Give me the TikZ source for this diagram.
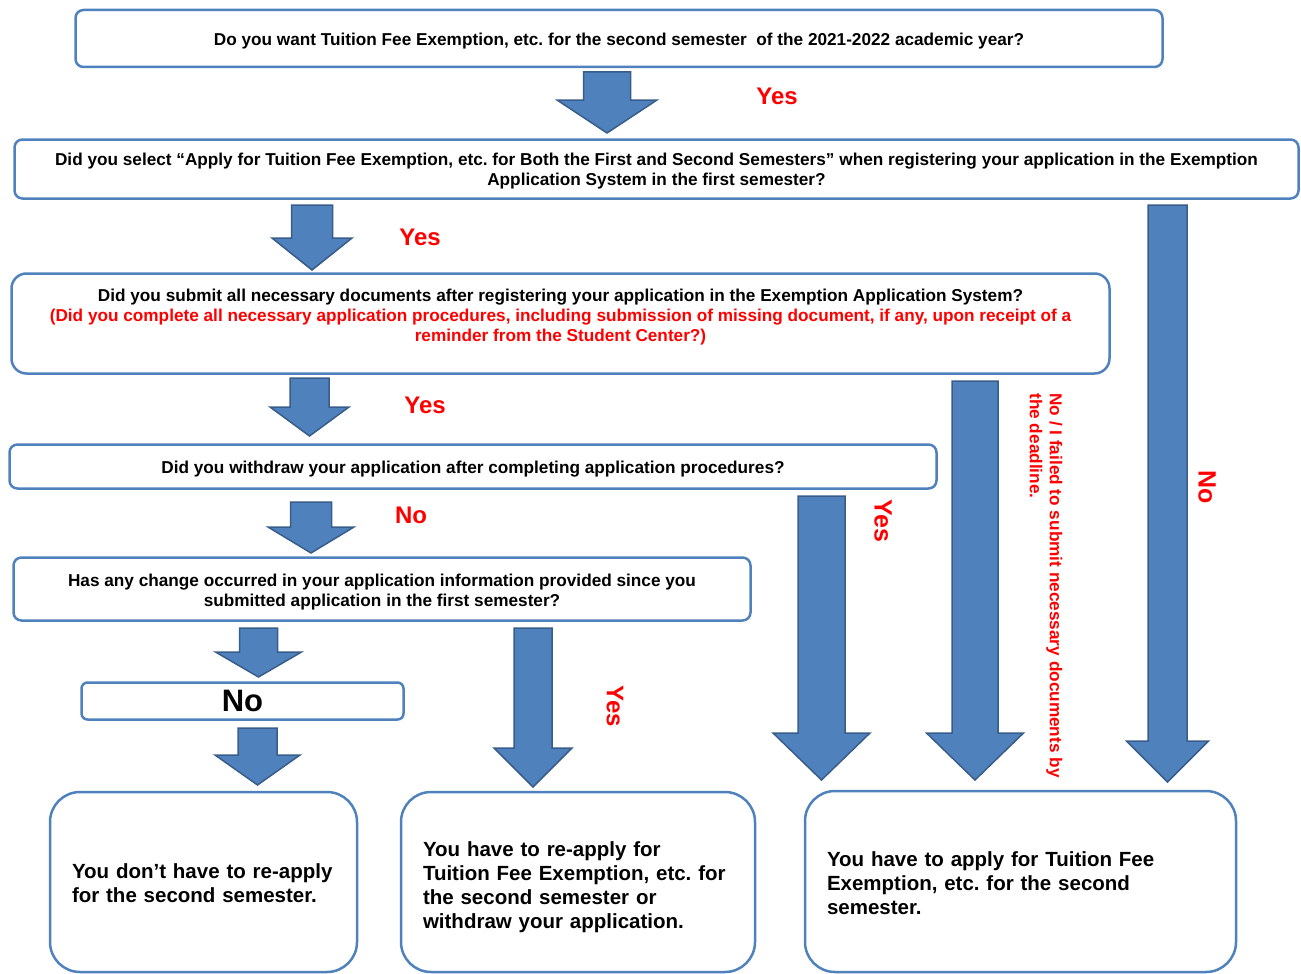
\documentclass[tikz,border=0pt]{standalone}
\usepackage{fontspec}
\setmainfont{Liberation Sans}
\usepackage{tikz}
\definecolor{boxblue}{HTML}{4F81BD}
\definecolor{arredge}{HTML}{385D8A}
\definecolor{lblred}{HTML}{FF0000}
\frenchspacing
% taller first line, pushes the text of a box down a little
\newcommand{\dn}[1]{\rule{0pt}{#1pt}}
\tikzset{
  qbox/.style={draw=boxblue,line width=2.5pt,rounded corners=8pt,align=center,inner sep=0pt,
    font=\bfseries\fontsize{17.2}{20}\selectfont},
  abox/.style={draw=boxblue,line width=2.5pt,rounded corners=30pt,align=left,inner xsep=22pt,
    font=\bfseries\fontsize{20.5}{24}\selectfont},
  barr/.style={fill=boxblue,draw=arredge,line width=1.5pt},
  lbl/.style={text=lblred,font=\bfseries\fontsize{24}{26}\selectfont}
}
% x, top, tip, shaft half width, head half width, head length
\newcommand{\barrow}[6]{\draw[barr] (#1-#4,#2) -- (#1+#4,#2) -- (#1+#4,#3-#6) -- (#1+#5,#3-#6)
  -- (#1,#3) -- (#1-#5,#3-#6) -- (#1-#4,#3-#6) -- cycle;}

\begin{document}
\begin{tikzpicture}[x=1pt,y=-1pt]
\useasboundingbox (0,0) rectangle (1301,974);
%questions
\node[qbox,minimum width=1087,minimum height=57] (want) at (619,38.5)
  {\dn{16.6}Do you want Tuition Fee Exemption, etc. for the second semester\ \ of the 2021-2022 academic year?};
\node[qbox,minimum width=1284,minimum height=59] (select) at (656.5,169)
  {\dn{16.6}Did you select “Apply for Tuition Fee Exemption, etc. for Both the First and Second Semesters” when registering your application in the Exemption\\Application System in the first semester?};
\node[qbox,rounded corners=15pt,minimum width=1098,minimum height=100] (submit) at (560.5,323.5)
  {Did you submit all necessary documents after registering your application in the Exemption Application System?\\
   \color{lblred}(Did you complete all necessary application procedures, including submission of missing document, if any, upon receipt of a\\
   \color{lblred}reminder from the Student Center?)\\[-3pt]\mbox{}};
\node[qbox,minimum width=927,minimum height=44] (withdraw) at (473,466.5)
  {\dn{17.6}Did you withdraw your application after completing application procedures?};
\node[qbox,minimum width=737,minimum height=63] (change) at (382,589)
  {\dn{18.6}Has any change occurred in your application information provided since you\\submitted application in the first semester?};
\node[qbox,rounded corners=6pt,minimum width=322,minimum height=37,font=\bfseries\fontsize{31}{32}\selectfont] (nochange) at (242.5,701) {No};
%answers
\node[abox,text width=263,minimum height=180] (noneed) at (203.5,882)
  {\dn{17}You don’t have to re-apply\\for the second semester.};
\node[abox,text width=310,minimum height=180] (reapply) at (578,882)
  {\dn{25}You have to re-apply for\\Tuition Fee Exemption, etc. for\\the second semester or\\withdraw your application.};
\node[abox,text width=387,minimum height=181] (apply) at (1020.5,881.5)
  {\dn{19}You have to apply for Tuition Fee\\Exemption, etc. for the second\\semester.};
%block arrows
\barrow{607}{72}{133}{23.5}{50}{33}
\barrow{312}{205}{270}{20.5}{40}{32}
\barrow{309.5}{378}{436}{19.5}{39.5}{29}
\barrow{311}{502}{553}{20.5}{43}{26}
\barrow{258.5}{628}{677}{19}{43}{25}
\barrow{257.5}{728}{785}{19.5}{42.5}{30}
\barrow{533}{628}{787}{19}{39}{39}
\barrow{821.5}{496}{780}{23.5}{48.5}{47}
\barrow{975}{381}{780}{23}{48.5}{47}
\barrow{1167.5}{205}{782}{19.5}{41}{41}
%labels
\node[lbl] (yes1) at (777,96) {Yes};
\node[lbl] (yes2) at (420,237) {Yes};
\node[lbl] (yes3) at (425,405) {Yes};
\node[lbl] (no4) at (411,515) {No};
\node[lbl,rotate=-90] (yes5) at (615,706) {Yes};
\node[lbl,rotate=-90,font=\bfseries\fontsize{25}{26}\selectfont] (yes6) at (883,521) {Yes};
\node[lbl,rotate=-90,font=\bfseries\fontsize{25}{26}\selectfont] (no7) at (1207,487) {No};
\node[lbl,rotate=-90,align=left,font=\bfseries\fontsize{17.2}{20}\selectfont] (late) at (1046,585.5)
  {No / I failed to submit necessary documents by\\the deadline.};
\end{tikzpicture}
\end{document}
